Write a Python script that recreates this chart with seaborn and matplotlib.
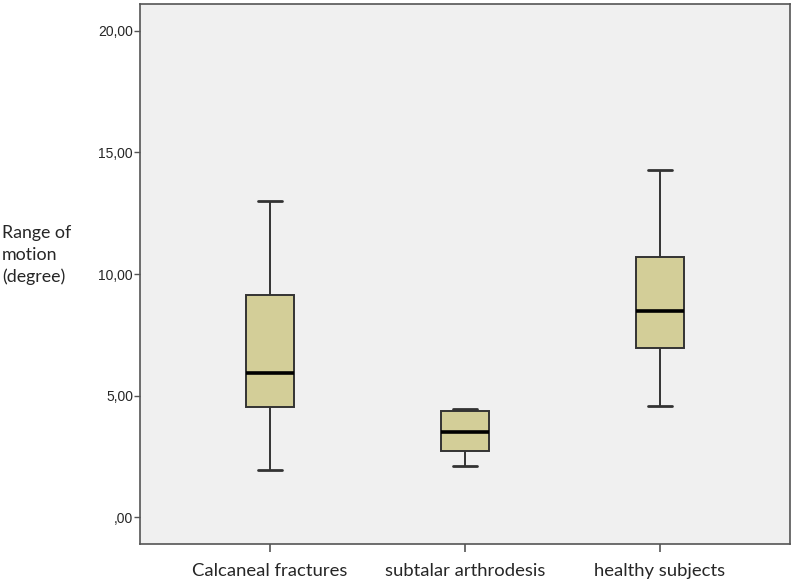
import numpy as np
import pandas as pd
import matplotlib
matplotlib.use("Agg")
import matplotlib.pyplot as plt
import seaborn as sns

# groups and five-number summaries
groups = ["Calcaneal fractures", "subtalar arthrodesis", "healthy subjects"]
whisker_low = [1.93, 2.09, 4.58]
q1 = [4.54, 2.74, 6.94]
median = [5.94, 3.51, 8.49]
q3 = [9.14, 4.36, 10.68]
whisker_high = [13.02, 4.44, 14.28]

y_ticks = [0, 5, 10, 15, 20]
y_ticklabels = [",00", "5,00", "10,00", "15,00", "20,00"]

# five points per group -> quartiles land exactly on the read values
rows = []
for i, g in enumerate(groups):
    for v in (whisker_low[i], q1[i], median[i], q3[i], whisker_high[i]):
        rows.append({"group": g, "rom": v})
df = pd.DataFrame(rows)

sns.set_style("white")
plt.rcParams["font.family"] = ["Lato", "DejaVu Sans"]

fig = plt.figure(figsize=(7.94, 5.82), dpi=100)
ax = fig.add_axes([140 / 794, 38 / 582, 650 / 794, 540 / 582])
ax.set_facecolor("#f0f0f0")

sns.boxplot(data=df, x="group", y="rom", order=groups, ax=ax,
            color="#d3ce98", width=0.25, whis=np.inf, saturation=1,
            linecolor="#333333", linewidth=1.4,
            medianprops={"color": "black", "linewidth": 2.6},
            capprops={"linewidth": 2.0})

ax.set_xlim(-0.667, 2.667)
ax.set_ylim(-1.1, 21.1)
ax.set_yticks(y_ticks)
ax.set_yticklabels(y_ticklabels, fontsize=10, family="Liberation Sans")
ax.tick_params(axis="y", left=True, direction="out", length=4, width=1,
               color="#555555", pad=1)
ax.tick_params(axis="x", bottom=True, direction="out", length=6, width=1.2,
               color="#555555", labelsize=13.3, pad=8)
ax.set_xlabel("")
ax.set_ylabel("Range of\nmotion\n(degree)", rotation=0, fontsize=12.8,
              ha="left", va="center", multialignment="left", linespacing=1.45)
ax.yaxis.set_label_coords(-0.212, 0.535)

for s in ax.spines.values():
    s.set_visible(True)
    s.set_color("#555555")
    s.set_linewidth(1.2)

fig.savefig("out.png", dpi=100)
